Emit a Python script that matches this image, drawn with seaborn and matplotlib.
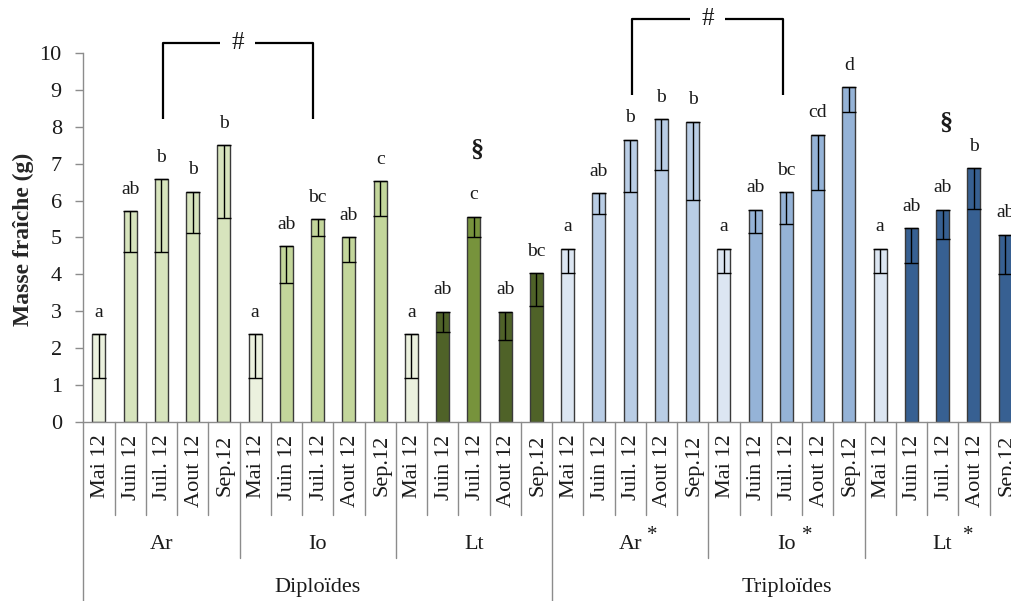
import numpy as np
import pandas as pd
import matplotlib
matplotlib.use("Agg")
import matplotlib.pyplot as plt
import seaborn as sns

# ------------------------------------------------------------------
# Data (fresh mass, g)
ploidies = ["Diploïdes", "Triploïdes"]
varietes = ["Ar", "Io", "Lt"]
mois = ["Mai 12", "Juin 12", "Juil. 12", "Aout 12", "Sep.12"]

# mean value (top of bar)
masse = [2.37, 5.72, 6.59, 6.24, 7.51,
         2.37, 4.76, 5.49, 5.00, 6.53,
         2.37, 2.99, 5.57, 2.99, 4.03,
         4.70, 6.20, 7.66, 8.22, 8.14,
         4.70, 5.76, 6.23, 7.79, 9.08,
         4.70, 5.25, 5.76, 6.89, 5.08]
# lower end of the (minus) error bar
masse_bas = [1.18, 4.60, 4.60, 5.12, 5.52,
             1.18, 3.76, 5.04, 4.34, 5.59,
             1.18, 2.43, 5.00, 2.22, 3.14,
             4.03, 5.63, 6.23, 6.82, 6.02,
             4.03, 5.11, 5.36, 6.30, 8.42,
             4.03, 4.31, 4.95, 5.77, 4.00]
# significance letters
lettres = ["a", "ab", "b", "b", "b",
           "a", "ab", "bc", "ab", "c",
           "a", "ab", "c", "ab", "bc",
           "a", "ab", "b", "b", "b",
           "a", "ab", "bc", "cd", "d",
           "a", "ab", "ab", "b", "ab"]

# ------------------------------------------------------------------
# Colours (Excel palette)
couleurs = (["#EBF1DE"] + ["#D7E4BD"] * 4 +
            ["#EBF1DE"] + ["#C3D69B"] * 4 +
            ["#EBF1DE", "#4F6228", "#77933C", "#4F6228", "#4F6228"] +
            ["#DCE6F2"] + ["#B9CDE5"] * 4 +
            ["#DCE6F2"] + ["#95B3D7"] * 4 +
            ["#DCE6F2"] + ["#376092"] * 4)

rows = []
for p in ploidies:
    for v in varietes:
        for m in mois:
            rows.append({"ploidie": p, "variete": v, "mois": m,
                         "cle": f"{p}-{v}-{m}"})
df = pd.DataFrame(rows)
df["masse"] = masse
df["bas"] = masse_bas
palette = dict(zip(df["cle"], couleurs))

sns.set_theme(style="white")
plt.rcParams['font.family'] = ['Liberation Serif', 'DejaVu Serif']

W, H = 1011, 601
fig = plt.figure(figsize=(W / 100, H / 100), dpi=100)
# axes deliberately runs past the right border (figure is cropped there)
ax_left, ax_bottom, ax_w, ax_h = 83.3, 179.3, 937.5, 368.4
ax = fig.add_axes([ax_left / W, ax_bottom / H, ax_w / W, ax_h / H])

sns.barplot(data=df, x="cle", y="masse", hue="cle", palette=palette,
            legend=False, width=0.42, errorbar=None, edgecolor="#3a3a3a",
            linewidth=1.0, ax=ax, saturation=1)

xpos = np.arange(len(df))
mid = (df["masse"] + df["bas"]) / 2
half = (df["masse"] - df["bas"]) / 2
ax.errorbar(xpos, mid, yerr=half, fmt="none", ecolor="black",
            elinewidth=1.0, capsize=5.0, capthick=1.0, zorder=5)

for x, top, lab in zip(xpos, df["masse"], lettres):
    ax.annotate(lab, (x, top), xytext=(0, 12.5), textcoords="offset points",
                ha="center", va="baseline", fontsize=14, color="#1a1a1a")

ax.set_xlim(-0.5, len(df) - 0.5)
ax.set_ylim(0, 10)
ax.set_yticks(range(0, 11))
ax.set_xticks([])
ax.set_xlabel("")
ax.set_ylabel("")
for s in ["top", "right"]:
    ax.spines[s].set_visible(False)
grey = "#8c8c8c"
for s in ["left", "bottom"]:
    ax.spines[s].set_color(grey)
    ax.spines[s].set_linewidth(1.0)
ax.tick_params(axis="y", left=True, direction="out", length=5.5, width=1,
               color=grey, labelsize=16, pad=10, labelcolor="#1a1a1a")

fig.text(23 / W, 1 - 239 / H, "Masse fraîche (g)", rotation=90,
         ha="center", va="center", fontsize=17, fontweight="bold")

# ---------------- multi-level category axis ----------------------
tr = ax.get_xaxis_transform()
px = 1 / ax_h
for x, m in zip(xpos, df["mois"]):
    ax.text(x + 0.05, -13 * px, m, rotation=90, ha="center", va="top",
            transform=tr, fontsize=16, color="#1a1a1a")
for b in np.arange(-0.5, len(df) + 0.5, 1):
    if b % 15 == 14.5 or b == -0.5:
        depth = 180
    elif b % 5 == 4.5:
        depth = 136
    else:
        depth = 93
    ax.plot([b, b], [0, -depth * px], transform=tr, color=grey, lw=1.0,
            clip_on=False)

etoiles = ["", "", "", "*", "*", "*"]
etoile_dx = [0, 0, 0, 0.69, 0.65, 0.82]
for g in range(6):
    c = g * 5 + 2
    ax.text(c, -123 * px, varietes[g % 3], ha="center", va="center",
            transform=tr, fontsize=16, color="#1a1a1a")
    if etoiles[g]:
        ax.text(c + etoile_dx[g], -114 * px, etoiles[g], ha="center",
                va="center", transform=tr, fontsize=15, color="#1a1a1a")
for k, p in enumerate(ploidies):
    ax.text(k * 15 + 7, -166 * px, p, ha="center", va="center",
            transform=tr, fontsize=16, color="#1a1a1a")

# ---------------- significance brackets ---------------------------
crochets = [(2.05, 6.85, 10.27, 8.22), (17.06, 21.88, 10.92, 8.87)]
for xl, xr, yt, yb in crochets:
    xm = (xl + xr) / 2
    kw = dict(color="black", lw=1.6, clip_on=False, solid_capstyle="butt")
    ax.plot([xl, xl, xm - 0.56], [yb, yt, yt], **kw)
    ax.plot([xm + 0.56, xr, xr], [yt, yt, yb], **kw)
    ax.text(xm, yt, "#", ha="center", va="center", fontsize=18,
            color="#1a1a1a")

for x, y in [(12.09, 7.37), (27.1, 8.1)]:
    ax.text(x, y, "§", ha="center", va="center", fontsize=19,
            fontweight="bold", color="#1a1a1a")

fig.savefig("out.png", dpi=100)
